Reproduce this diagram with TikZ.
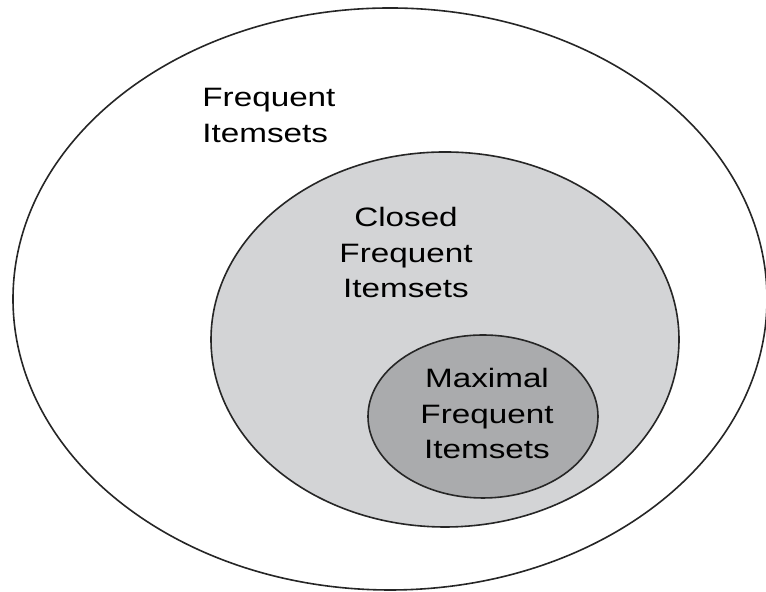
\documentclass[tikz,border=0pt]{standalone}
\usepackage{xcolor}
\usepackage{fontspec}
\newfontfamily\setfont[FakeStretch=1.25]{Liberation Sans}
\usepackage{tikz}

\definecolor{closedgray}{RGB}{211,212,214}
\definecolor{maximalgray}{RGB}{170,171,173}

\tikzset{
	setline/.style={draw=black!85, line width=0.8pt},
	setlabel/.style={inner sep=0pt, font=\setfont\fontsize{13.3}{17.75}\selectfont}
}

\begin{document}
\begin{tikzpicture}[x=0.5pt, y=0.5pt]
		\useasboundingbox (0,0) rectangle (766,592);
		
		\draw[setline, fill=white] (390,293) ellipse [x radius=377, y radius=291];
		\draw[setline, fill=closedgray] (445,252.5) ellipse [x radius=234, y radius=187.5];
		\draw[setline, fill=maximalgray] (483,175.5) ellipse [x radius=115, y radius=81.5];
		
		\node[setlabel, anchor=north west, align=left] (frequent) at (202,504) {Frequent\\Itemsets};
		\node[setlabel, anchor=north, align=center] (closed) at (406,385) {Closed\\Frequent\\Itemsets};
		\node[setlabel, anchor=north, align=center] (maximal) at (487,224) {Maximal\\Frequent\\Itemsets};
		\end{tikzpicture}
\end{document}
